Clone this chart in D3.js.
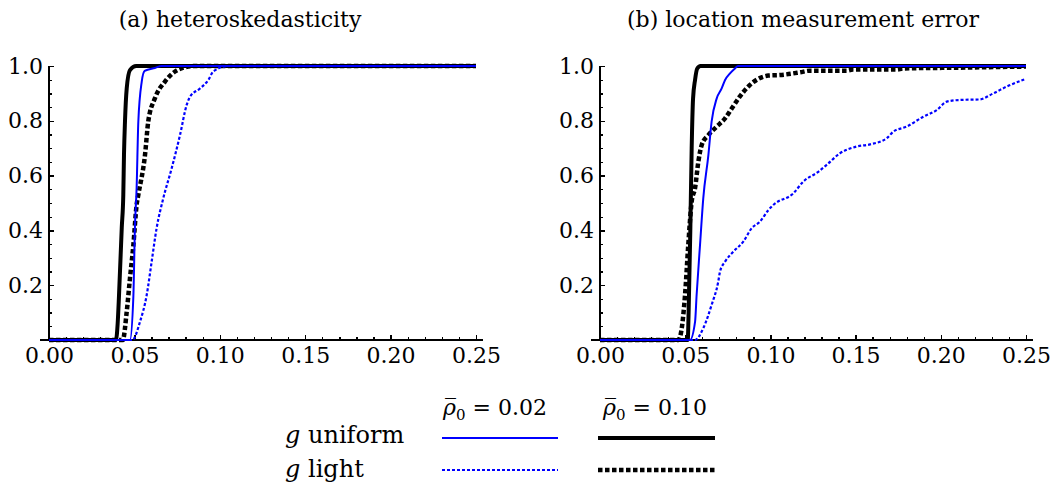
<!DOCTYPE html>
<html>
  <head>
    <meta charset='utf-8'>
    <title></title>
    <script src='https://d3js.org/d3.v7.min.js'></script>
    <style>
      body {
        margin: 0;
        background: #fff;
      }
      svg {
        display: block;
        font-family: 'DejaVu Serif', serif;
      }
      .axis path {
        display: none;
      }
      .axis line, .axis-line {
        stroke: #000;
        stroke-width: 1.3px;
        shape-rendering: crispEdges;
      }
      .axis text {
        font-family: 'DejaVu Serif', serif;
        font-size: 22px;
        fill: #000;
      }
      .curve {
        fill: none;
        stroke-linejoin: round;
      }
      .uni02 { stroke: #0000ff; stroke-width: 2px; }
      .light02 { stroke: #0000ff; stroke-width: 2.2px; stroke-dasharray: 3,2; }
      .uni10 { stroke: #000; stroke-width: 4px; }
      .light10 { stroke: #000; stroke-width: 4.5px; stroke-dasharray: 4.5,2.5; }
      .title {
        font-size: 22px;
        fill: #000;
      }
      .legend text {
        font-size: 22px;
        fill: #000;
      }
      .legend .row {
        font-size: 24px;
      }
    </style>
  </head>
  <body>
  <script type='text/javascript'>

    // tick values
    var xTicks = [0, 0.05, 0.10, 0.15, 0.20, 0.25];
    var yTicks = [0.2, 0.4, 0.6, 0.8, 1.0];

    // (a) heteroskedasticity, [x, y]
    var hetUniform02 = [[0,0],[0.0474,0],[0.0494,0.16],[0.0503,0.41],[0.0513,0.555],[0.0523,0.797],
      [0.0543,0.943],[0.056,0.982],[0.062,0.993],[0.066,1],[0.25,1]];
    var hetLight02 = [[0,0],[0.0488,0],[0.0533,0.067],[0.0572,0.164],[0.0601,0.286],[0.063,0.408],
      [0.0669,0.517],[0.0718,0.626],[0.0767,0.748],[0.0806,0.858],[0.0826,0.888],[0.0884,0.918],
      [0.0933,0.949],[0.0962,0.98],[0.105,1],[0.25,1]];
    var hetUniform10 = [[0,0],[0.0392,0],[0.0402,0.06],[0.041,0.164],[0.0426,0.41],[0.0435,0.53],
      [0.0439,0.675],[0.0445,0.8],[0.0455,0.918],[0.0474,0.985],[0.051,1],[0.25,1]];
    var hetLight10 = [[0,0],[0.0432,0],[0.0455,0.103],[0.0474,0.225],[0.0494,0.347],[0.0513,0.493],
      [0.0523,0.53],[0.0562,0.675],[0.0581,0.797],[0.062,0.882],[0.0679,0.943],[0.0738,0.98],
      [0.08,0.996],[0.085,1],[0.25,1]];

    // (b) location measurement error
    var locUniform02 = [[0,0],[0.0528,0],[0.0558,0.067],[0.0567,0.164],[0.0587,0.347],[0.0606,0.517],
      [0.0636,0.675],[0.0655,0.797],[0.0685,0.882],[0.0714,0.918],[0.0734,0.949],[0.0763,0.973],
      [0.0792,0.991],[0.081,1],[0.25,1]];
    var locLight02 = [[0,0],[0.0558,0],[0.0606,0.043],[0.0655,0.128],[0.0694,0.213],[0.0704,0.249],
      [0.0734,0.286],[0.0782,0.322],[0.0841,0.359],[0.089,0.408],[0.0939,0.432],[0.0988,0.474],
      [0.1017,0.493],[0.1134,0.535],[0.1193,0.578],[0.1281,0.614],[0.133,0.639],[0.1407,0.681],
      [0.1506,0.706],[0.1585,0.714],[0.1682,0.736],[0.1721,0.76],[0.18,0.779],[0.1897,0.815],
      [0.1976,0.839],[0.2035,0.87],[0.2113,0.876],[0.2228,0.878],[0.2308,0.9],[0.2387,0.925],[0.25,0.953]];
    var locUniform10 = [[0,0],[0.0515,0],[0.052,0.1],[0.053,0.4],[0.0538,0.7],[0.0546,0.88],
      [0.0558,0.95],[0.057,0.99],[0.059,1],[0.25,1]];
    var locLight10 = [[0,0],[0.046,0],[0.048,0.044],[0.0499,0.164],[0.0518,0.347],[0.0538,0.505],
      [0.0558,0.555],[0.0577,0.65],[0.0597,0.712],[0.0636,0.748],[0.0685,0.779],[0.0734,0.809],
      [0.0773,0.845],[0.082,0.888],[0.087,0.925],[0.0929,0.953],[0.0988,0.965],[0.1056,0.967],
      [0.1174,0.977],[0.1232,0.983],[0.1448,0.983],[0.1485,0.987],[0.1741,0.987],[0.1778,0.991],
      [0.2113,0.994],[0.25,0.998]];

    var width = 1051;
    var height = 483;

    var svg = d3.select('body')
              .append('svg')
              .attr('width', width)
              .attr('height', height);

    var y = d3.scaleLinear()
            .domain([0, 1])
            .range([340, 66]);

    function panel(title, titleX, x0, x1, series) {
      var x = d3.scaleLinear()
              .domain([0, 0.25])
              .range([x0, x1]);

      var line = d3.line()
                .x(function(d) { return x(d[0]); })
                .y(function(d) { return y(d[1]); })
                .curve(d3.curveMonotoneX);

      svg.append('text')
        .attr('class', 'title')
        .attr('x', titleX)
        .attr('y', 27)
        .attr('text-anchor', 'middle')
        .text(title);

      // axis lines, Mathematica style (x axis runs a bit past the ends)
      svg.append('line')
        .attr('class', 'axis-line')
        .attr('x1', x(0) - 9).attr('x2', x(0.25) + 7)
        .attr('y1', y(0)).attr('y2', y(0));
      svg.append('line')
        .attr('class', 'axis-line')
        .attr('x1', x(0)).attr('x2', x(0))
        .attr('y1', y(0)).attr('y2', y(1));

      // minor ticks
      svg.append('g')
        .attr('class', 'axis')
        .attr('transform', 'translate(0,' + y(0) + ')')
        .call(d3.axisBottom(x).tickValues(d3.range(0.01, 0.2501, 0.01)).tickSize(-3).tickFormat(''));
      svg.append('g')
        .attr('class', 'axis')
        .attr('transform', 'translate(' + x(0) + ',0)')
        .call(d3.axisLeft(y).tickValues(d3.range(0.05, 1.0001, 0.05)).tickSize(-3).tickFormat(''));

      // major ticks + labels
      svg.append('g')
        .attr('class', 'axis')
        .attr('transform', 'translate(0,' + y(0) + ')')
        .call(d3.axisBottom(x).tickValues(xTicks).tickSize(-5).tickPadding(7).tickFormat(d3.format('.2f')));
      svg.append('g')
        .attr('class', 'axis')
        .attr('transform', 'translate(' + x(0) + ',0)')
        .call(d3.axisLeft(y).tickValues(yTicks).tickSize(-5).tickPadding(6).tickFormat(d3.format('.1f')));

      series.forEach(function(s) {
        svg.append('path')
          .datum(s.data)
          .attr('class', 'curve ' + s.cls)
          .attr('d', line);
      });
    }

    panel('(a) heteroskedasticity', 240, 49, 476, [
      {data: hetUniform10, cls: 'uni10'},
      {data: hetLight10, cls: 'light10'},
      {data: hetUniform02, cls: 'uni02'},
      {data: hetLight02, cls: 'light02'}
    ]);

    panel('(b) location measurement error', 803, 600, 1026, [
      {data: locUniform10, cls: 'uni10'},
      {data: locLight10, cls: 'light10'},
      {data: locUniform02, cls: 'uni02'},
      {data: locLight02, cls: 'light02'}
    ]);

    // legend
    var legend = svg.append('g').attr('class', 'legend');

    function header(xPos, value) {
      var t = legend.append('text').attr('x', xPos).attr('y', 415);
      t.append('tspan').style('font-style', 'italic').text('\u03C1\u0305');
      t.append('tspan').attr('dy', 5).style('font-size', '15px').text('0');
      t.append('tspan').attr('dy', -5).text(' = ' + value);
    }
    header(443, '0.02');
    header(603, '0.10');

    function rowLabel(yPos, word) {
      var t = legend.append('text').attr('class', 'row').attr('x', 285).attr('y', yPos);
      t.append('tspan').style('font-style', 'italic').text('g');
      t.append('tspan').text(' ' + word);
    }
    rowLabel(443, 'uniform');
    rowLabel(477, 'light');

    var samples = [
      {cls: 'uni02', x1: 442, x2: 558, y: 438},
      {cls: 'uni10', x1: 598, x2: 715, y: 438},
      {cls: 'light02', x1: 442, x2: 558, y: 470},
      {cls: 'light10', x1: 598, x2: 715, y: 470}
    ];
    legend.selectAll('.sample')
      .data(samples)
      .enter().append('line')
      .attr('class', function(d) { return 'curve ' + d.cls; })
      .attr('x1', function(d) { return d.x1; })
      .attr('x2', function(d) { return d.x2; })
      .attr('y1', function(d) { return d.y; })
      .attr('y2', function(d) { return d.y; });

  </script>
  </body>
</html>
